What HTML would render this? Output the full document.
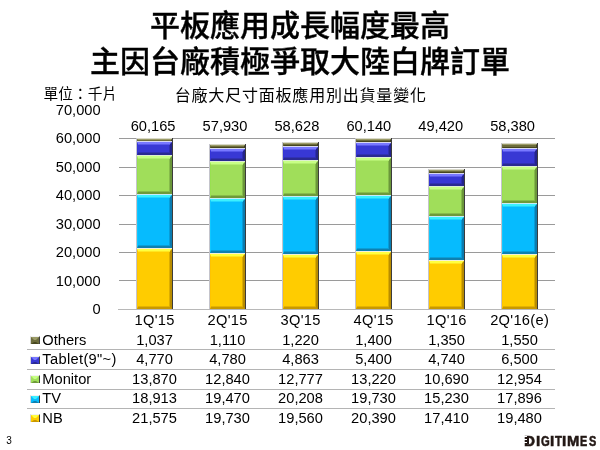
<!DOCTYPE html>
<html><head><meta charset="utf-8"><style>
*{margin:0;padding:0;box-sizing:border-box}
html,body{width:600px;height:450px;background:#fff;overflow:hidden}
body{position:relative;font-family:"Liberation Sans","Noto Sans CJK TC",sans-serif;color:#000}
.a{position:absolute;white-space:nowrap}
.t{font-weight:500;font-size:30px;line-height:36px;-webkit-text-stroke:0.35px #000;width:600px;text-align:center;left:0}
.n{font-size:14.67px;line-height:17px}
.yl{width:80px;text-align:right;left:20.6px}
.c{width:80px;text-align:center}
.g{position:absolute;height:1px;background:#9a9a9a}
.seg{position:absolute;overflow:hidden}
.seg i{position:absolute;left:1px;right:1px;top:1px;bottom:0;border-style:solid;border-width:2px 2px 2px 1px}
.logo span{position:absolute;top:433px;font-family:'Liberation Sans',sans-serif;font-weight:bold;font-size:14.3px;line-height:17px;color:#231815;-webkit-text-stroke:0.55px #231815;transform-origin:0 0}
.sq{position:absolute;width:10px;height:8px;border-style:solid;border-width:1px 1px 0 1px;border-color:#f2f2f2 #404040 #000 #d4d4d4}.sq i{display:block;width:8px;height:7px;border-style:solid;border-width:3px 3px 2px 3px}
</style></head><body>

<div class="a t" style="top:7.5px">平板應用成長幅度最高</div>
<div class="a t" style="top:44px">主因台廠積極爭取大陸白牌訂單</div>
<div class="a" style="left:43.6px;top:83.6px;font-size:14.67px;line-height:20px;letter-spacing:0.1px">單位：千片</div>
<div class="a" style="left:1px;width:600px;text-align:center;top:85.4px;font-size:16px;line-height:22px;letter-spacing:0.8px;text-indent:-0.5px">台廠大尺寸面板應用別出貨量變化</div>
<div class="g" style="left:119px;width:436px;top:280px"></div>
<div class="g" style="left:119px;width:436px;top:252px"></div>
<div class="g" style="left:119px;width:436px;top:224px"></div>
<div class="g" style="left:119px;width:436px;top:195px"></div>
<div class="g" style="left:119px;width:436px;top:167px"></div>
<div class="g" style="left:119px;width:436px;top:138px"></div>
<div class="g" style="left:118px;width:437px;top:309px;background:#b8b8b8"></div>
<div class="a n yl" style="top:301px">0</div>
<div class="a n yl" style="top:273px">10,000</div>
<div class="a n yl" style="top:244px">20,000</div>
<div class="a n yl" style="top:216px">30,000</div>
<div class="a n yl" style="top:187px">40,000</div>
<div class="a n yl" style="top:159px">50,000</div>
<div class="a n yl" style="top:130px">60,000</div>
<div class="a n yl" style="top:102px">70,000</div>
<div class="seg" style="left:136px;top:248px;width:37px;height:61px;background:linear-gradient(90deg,#c4c4cc 0 1px,transparent 1px calc(100% - 1px),#3c3c3c calc(100% - 1px));"><div style="position:absolute;left:1px;right:1px;top:0;height:1px;background:#F4F0D8"></div><i style="background:#FFCC00;border-color:#FFFF40 #B88C00 #C89800 #FFC400;box-shadow:inset 0 1px 0 #ffe620,inset -1px 0 0 #dcac00,inset 0 -1px 0 #e4b200"></i></div>
<div class="seg" style="left:136px;top:194px;width:37px;height:54px;background:linear-gradient(90deg,#c4c4cc 0 1px,transparent 1px calc(100% - 1px),#3c3c3c calc(100% - 1px));"><div style="position:absolute;left:1px;right:1px;top:0;height:1px;background:#C8ECF8"></div><i style="background:#06BBFE;border-color:#3CF0FF #0A7CB0 #0E80B0 #10C8FF;box-shadow:inset 0 1px 0 #21d6fe,inset -1px 0 0 #089cd7,inset 0 -1px 0 #0a9ed7"></i></div>
<div class="seg" style="left:136px;top:155px;width:37px;height:39px;background:linear-gradient(90deg,#c4c4cc 0 1px,transparent 1px calc(100% - 1px),#3c3c3c calc(100% - 1px));"><div style="position:absolute;left:1px;right:1px;top:0;height:1px;background:#DDEED0"></div><i style="background:#A0DE5A;border-color:#C8FF86 #6A963A #6E9A3A #98E050;box-shadow:inset 0 1px 0 #b4ee70,inset -1px 0 0 #85ba4a,inset 0 -1px 0 #87bc4a"></i></div>
<div class="seg" style="left:136px;top:141px;width:37px;height:14px;background:linear-gradient(90deg,#c4c4cc 0 1px,transparent 1px calc(100% - 1px),#3c3c3c calc(100% - 1px));"><div style="position:absolute;left:1px;right:1px;top:0;height:1px;background:#D8D8F0"></div><i style="background:#3838D4;border-color:#7878FF #24248C #2A2A92 #3434D8;box-shadow:inset 0 1px 0 #5858ea,inset -1px 0 0 #2e2eb0,inset 0 -1px 0 #3131b3"></i></div>
<div class="seg" style="left:136px;top:138px;width:37px;height:3px;background:linear-gradient(90deg,#c4c4cc 0 1px,transparent 1px calc(100% - 1px),#3c3c3c calc(100% - 1px));"><div style="position:absolute;left:1px;right:1px;top:0;height:1px;background:#D8D8C8"></div><i style="background:#6C6C3C;border-width:1px 1px 0px 1px;border-color:#9C9C68 #40401C #46461F #6C6C3C"></i></div>
<div class="seg" style="left:209px;top:253px;width:37px;height:56px;background:linear-gradient(90deg,#c4c4cc 0 1px,transparent 1px calc(100% - 1px),#3c3c3c calc(100% - 1px));"><div style="position:absolute;left:1px;right:1px;top:0;height:1px;background:#F4F0D8"></div><i style="background:#FFCC00;border-color:#FFFF40 #B88C00 #C89800 #FFC400;box-shadow:inset 0 1px 0 #ffe620,inset -1px 0 0 #dcac00,inset 0 -1px 0 #e4b200"></i></div>
<div class="seg" style="left:209px;top:198px;width:37px;height:55px;background:linear-gradient(90deg,#c4c4cc 0 1px,transparent 1px calc(100% - 1px),#3c3c3c calc(100% - 1px));"><div style="position:absolute;left:1px;right:1px;top:0;height:1px;background:#C8ECF8"></div><i style="background:#06BBFE;border-color:#3CF0FF #0A7CB0 #0E80B0 #10C8FF;box-shadow:inset 0 1px 0 #21d6fe,inset -1px 0 0 #089cd7,inset 0 -1px 0 #0a9ed7"></i></div>
<div class="seg" style="left:209px;top:161px;width:37px;height:37px;background:linear-gradient(90deg,#c4c4cc 0 1px,transparent 1px calc(100% - 1px),#3c3c3c calc(100% - 1px));"><div style="position:absolute;left:1px;right:1px;top:0;height:1px;background:#DDEED0"></div><i style="background:#A0DE5A;border-color:#C8FF86 #6A963A #6E9A3A #98E050;box-shadow:inset 0 1px 0 #b4ee70,inset -1px 0 0 #85ba4a,inset 0 -1px 0 #87bc4a"></i></div>
<div class="seg" style="left:209px;top:148px;width:37px;height:13px;background:linear-gradient(90deg,#c4c4cc 0 1px,transparent 1px calc(100% - 1px),#3c3c3c calc(100% - 1px));"><div style="position:absolute;left:1px;right:1px;top:0;height:1px;background:#D8D8F0"></div><i style="background:#3838D4;border-color:#7878FF #24248C #2A2A92 #3434D8;box-shadow:inset 0 1px 0 #5858ea,inset -1px 0 0 #2e2eb0,inset 0 -1px 0 #3131b3"></i></div>
<div class="seg" style="left:209px;top:144px;width:37px;height:4px;background:linear-gradient(90deg,#c4c4cc 0 1px,transparent 1px calc(100% - 1px),#3c3c3c calc(100% - 1px));"><div style="position:absolute;left:1px;right:1px;top:0;height:1px;background:#D8D8C8"></div><i style="background:#6C6C3C;border-width:1px 1px 1px 1px;border-color:#9C9C68 #40401C #46461F #6C6C3C"></i></div>
<div class="seg" style="left:282px;top:254px;width:37px;height:55px;background:linear-gradient(90deg,#c4c4cc 0 1px,transparent 1px calc(100% - 1px),#3c3c3c calc(100% - 1px));"><div style="position:absolute;left:1px;right:1px;top:0;height:1px;background:#F4F0D8"></div><i style="background:#FFCC00;border-color:#FFFF40 #B88C00 #C89800 #FFC400;box-shadow:inset 0 1px 0 #ffe620,inset -1px 0 0 #dcac00,inset 0 -1px 0 #e4b200"></i></div>
<div class="seg" style="left:282px;top:196px;width:37px;height:58px;background:linear-gradient(90deg,#c4c4cc 0 1px,transparent 1px calc(100% - 1px),#3c3c3c calc(100% - 1px));"><div style="position:absolute;left:1px;right:1px;top:0;height:1px;background:#C8ECF8"></div><i style="background:#06BBFE;border-color:#3CF0FF #0A7CB0 #0E80B0 #10C8FF;box-shadow:inset 0 1px 0 #21d6fe,inset -1px 0 0 #089cd7,inset 0 -1px 0 #0a9ed7"></i></div>
<div class="seg" style="left:282px;top:160px;width:37px;height:36px;background:linear-gradient(90deg,#c4c4cc 0 1px,transparent 1px calc(100% - 1px),#3c3c3c calc(100% - 1px));"><div style="position:absolute;left:1px;right:1px;top:0;height:1px;background:#DDEED0"></div><i style="background:#A0DE5A;border-color:#C8FF86 #6A963A #6E9A3A #98E050;box-shadow:inset 0 1px 0 #b4ee70,inset -1px 0 0 #85ba4a,inset 0 -1px 0 #87bc4a"></i></div>
<div class="seg" style="left:282px;top:146px;width:37px;height:14px;background:linear-gradient(90deg,#c4c4cc 0 1px,transparent 1px calc(100% - 1px),#3c3c3c calc(100% - 1px));"><div style="position:absolute;left:1px;right:1px;top:0;height:1px;background:#D8D8F0"></div><i style="background:#3838D4;border-color:#7878FF #24248C #2A2A92 #3434D8;box-shadow:inset 0 1px 0 #5858ea,inset -1px 0 0 #2e2eb0,inset 0 -1px 0 #3131b3"></i></div>
<div class="seg" style="left:282px;top:142px;width:37px;height:4px;background:linear-gradient(90deg,#c4c4cc 0 1px,transparent 1px calc(100% - 1px),#3c3c3c calc(100% - 1px));"><div style="position:absolute;left:1px;right:1px;top:0;height:1px;background:#D8D8C8"></div><i style="background:#6C6C3C;border-width:1px 1px 1px 1px;border-color:#9C9C68 #40401C #46461F #6C6C3C"></i></div>
<div class="seg" style="left:355px;top:251px;width:37px;height:58px;background:linear-gradient(90deg,#c4c4cc 0 1px,transparent 1px calc(100% - 1px),#3c3c3c calc(100% - 1px));"><div style="position:absolute;left:1px;right:1px;top:0;height:1px;background:#F4F0D8"></div><i style="background:#FFCC00;border-color:#FFFF40 #B88C00 #C89800 #FFC400;box-shadow:inset 0 1px 0 #ffe620,inset -1px 0 0 #dcac00,inset 0 -1px 0 #e4b200"></i></div>
<div class="seg" style="left:355px;top:195px;width:37px;height:56px;background:linear-gradient(90deg,#c4c4cc 0 1px,transparent 1px calc(100% - 1px),#3c3c3c calc(100% - 1px));"><div style="position:absolute;left:1px;right:1px;top:0;height:1px;background:#C8ECF8"></div><i style="background:#06BBFE;border-color:#3CF0FF #0A7CB0 #0E80B0 #10C8FF;box-shadow:inset 0 1px 0 #21d6fe,inset -1px 0 0 #089cd7,inset 0 -1px 0 #0a9ed7"></i></div>
<div class="seg" style="left:355px;top:157px;width:37px;height:38px;background:linear-gradient(90deg,#c4c4cc 0 1px,transparent 1px calc(100% - 1px),#3c3c3c calc(100% - 1px));"><div style="position:absolute;left:1px;right:1px;top:0;height:1px;background:#DDEED0"></div><i style="background:#A0DE5A;border-color:#C8FF86 #6A963A #6E9A3A #98E050;box-shadow:inset 0 1px 0 #b4ee70,inset -1px 0 0 #85ba4a,inset 0 -1px 0 #87bc4a"></i></div>
<div class="seg" style="left:355px;top:142px;width:37px;height:15px;background:linear-gradient(90deg,#c4c4cc 0 1px,transparent 1px calc(100% - 1px),#3c3c3c calc(100% - 1px));"><div style="position:absolute;left:1px;right:1px;top:0;height:1px;background:#D8D8F0"></div><i style="background:#3838D4;border-color:#7878FF #24248C #2A2A92 #3434D8;box-shadow:inset 0 1px 0 #5858ea,inset -1px 0 0 #2e2eb0,inset 0 -1px 0 #3131b3"></i></div>
<div class="seg" style="left:355px;top:138px;width:37px;height:4px;background:linear-gradient(90deg,#c4c4cc 0 1px,transparent 1px calc(100% - 1px),#3c3c3c calc(100% - 1px));"><div style="position:absolute;left:1px;right:1px;top:0;height:1px;background:#D8D8C8"></div><i style="background:#6C6C3C;border-width:1px 1px 1px 1px;border-color:#9C9C68 #40401C #46461F #6C6C3C"></i></div>
<div class="seg" style="left:428px;top:260px;width:37px;height:49px;background:linear-gradient(90deg,#c4c4cc 0 1px,transparent 1px calc(100% - 1px),#3c3c3c calc(100% - 1px));"><div style="position:absolute;left:1px;right:1px;top:0;height:1px;background:#F4F0D8"></div><i style="background:#FFCC00;border-color:#FFFF40 #B88C00 #C89800 #FFC400;box-shadow:inset 0 1px 0 #ffe620,inset -1px 0 0 #dcac00,inset 0 -1px 0 #e4b200"></i></div>
<div class="seg" style="left:428px;top:216px;width:37px;height:44px;background:linear-gradient(90deg,#c4c4cc 0 1px,transparent 1px calc(100% - 1px),#3c3c3c calc(100% - 1px));"><div style="position:absolute;left:1px;right:1px;top:0;height:1px;background:#C8ECF8"></div><i style="background:#06BBFE;border-color:#3CF0FF #0A7CB0 #0E80B0 #10C8FF;box-shadow:inset 0 1px 0 #21d6fe,inset -1px 0 0 #089cd7,inset 0 -1px 0 #0a9ed7"></i></div>
<div class="seg" style="left:428px;top:186px;width:37px;height:30px;background:linear-gradient(90deg,#c4c4cc 0 1px,transparent 1px calc(100% - 1px),#3c3c3c calc(100% - 1px));"><div style="position:absolute;left:1px;right:1px;top:0;height:1px;background:#DDEED0"></div><i style="background:#A0DE5A;border-color:#C8FF86 #6A963A #6E9A3A #98E050;box-shadow:inset 0 1px 0 #b4ee70,inset -1px 0 0 #85ba4a,inset 0 -1px 0 #87bc4a"></i></div>
<div class="seg" style="left:428px;top:173px;width:37px;height:13px;background:linear-gradient(90deg,#c4c4cc 0 1px,transparent 1px calc(100% - 1px),#3c3c3c calc(100% - 1px));"><div style="position:absolute;left:1px;right:1px;top:0;height:1px;background:#D8D8F0"></div><i style="background:#3838D4;border-color:#7878FF #24248C #2A2A92 #3434D8;box-shadow:inset 0 1px 0 #5858ea,inset -1px 0 0 #2e2eb0,inset 0 -1px 0 #3131b3"></i></div>
<div class="seg" style="left:428px;top:169px;width:37px;height:4px;background:linear-gradient(90deg,#c4c4cc 0 1px,transparent 1px calc(100% - 1px),#3c3c3c calc(100% - 1px));"><div style="position:absolute;left:1px;right:1px;top:0;height:1px;background:#D8D8C8"></div><i style="background:#6C6C3C;border-width:1px 1px 1px 1px;border-color:#9C9C68 #40401C #46461F #6C6C3C"></i></div>
<div class="seg" style="left:501px;top:254px;width:37px;height:55px;background:linear-gradient(90deg,#c4c4cc 0 1px,transparent 1px calc(100% - 1px),#3c3c3c calc(100% - 1px));"><div style="position:absolute;left:1px;right:1px;top:0;height:1px;background:#F4F0D8"></div><i style="background:#FFCC00;border-color:#FFFF40 #B88C00 #C89800 #FFC400;box-shadow:inset 0 1px 0 #ffe620,inset -1px 0 0 #dcac00,inset 0 -1px 0 #e4b200"></i></div>
<div class="seg" style="left:501px;top:203px;width:37px;height:51px;background:linear-gradient(90deg,#c4c4cc 0 1px,transparent 1px calc(100% - 1px),#3c3c3c calc(100% - 1px));"><div style="position:absolute;left:1px;right:1px;top:0;height:1px;background:#C8ECF8"></div><i style="background:#06BBFE;border-color:#3CF0FF #0A7CB0 #0E80B0 #10C8FF;box-shadow:inset 0 1px 0 #21d6fe,inset -1px 0 0 #089cd7,inset 0 -1px 0 #0a9ed7"></i></div>
<div class="seg" style="left:501px;top:166px;width:37px;height:37px;background:linear-gradient(90deg,#c4c4cc 0 1px,transparent 1px calc(100% - 1px),#3c3c3c calc(100% - 1px));"><div style="position:absolute;left:1px;right:1px;top:0;height:1px;background:#DDEED0"></div><i style="background:#A0DE5A;border-color:#C8FF86 #6A963A #6E9A3A #98E050;box-shadow:inset 0 1px 0 #b4ee70,inset -1px 0 0 #85ba4a,inset 0 -1px 0 #87bc4a"></i></div>
<div class="seg" style="left:501px;top:148px;width:37px;height:18px;background:linear-gradient(90deg,#c4c4cc 0 1px,transparent 1px calc(100% - 1px),#3c3c3c calc(100% - 1px));"><div style="position:absolute;left:1px;right:1px;top:0;height:1px;background:#D8D8F0"></div><i style="background:#3838D4;border-color:#7878FF #24248C #2A2A92 #3434D8;box-shadow:inset 0 1px 0 #5858ea,inset -1px 0 0 #2e2eb0,inset 0 -1px 0 #3131b3"></i></div>
<div class="seg" style="left:501px;top:143px;width:37px;height:5px;background:linear-gradient(90deg,#c4c4cc 0 1px,transparent 1px calc(100% - 1px),#3c3c3c calc(100% - 1px));"><div style="position:absolute;left:1px;right:1px;top:0;height:1px;background:#D8D8C8"></div><i style="background:#6C6C3C;border-width:1px 1px 1px 1px;border-color:#9C9C68 #40401C #46461F #6C6C3C"></i></div>
<div class="a n c" style="left:113.10px;top:118px">60,165</div>
<div class="a n c" style="left:114.50px;top:312px;letter-spacing:0.3px;text-indent:0.3px">1Q'15</div>
<div class="a n c" style="left:185.00px;top:118px">57,930</div>
<div class="a n c" style="left:187.50px;top:312px;letter-spacing:0.3px;text-indent:0.3px">2Q'15</div>
<div class="a n c" style="left:256.90px;top:118px">58,628</div>
<div class="a n c" style="left:260.50px;top:312px;letter-spacing:0.3px;text-indent:0.3px">3Q'15</div>
<div class="a n c" style="left:328.80px;top:118px">60,140</div>
<div class="a n c" style="left:333.50px;top:312px;letter-spacing:0.3px;text-indent:0.3px">4Q'15</div>
<div class="a n c" style="left:400.70px;top:118px">49,420</div>
<div class="a n c" style="left:406.50px;top:312px;letter-spacing:0.3px;text-indent:0.3px">1Q'16</div>
<div class="a n c" style="left:472.60px;top:118px">58,380</div>
<div class="a n c" style="left:479.50px;top:312px;letter-spacing:0.3px;text-indent:0.3px">2Q'16(e)</div>
<div class="sq" style="left:30px;top:336px"><i style="background:#6C6C3C;border-color:#9C9C68 #6C6C3C #46461F #6C6C3C"></i></div>
<div class="a n" style="left:42.3px;top:332px">Others</div>
<div class="a n c" style="left:114.50px;top:332px">1,037</div>
<div class="a n c" style="left:187.50px;top:332px">1,110</div>
<div class="a n c" style="left:260.50px;top:332px">1,220</div>
<div class="a n c" style="left:333.50px;top:332px">1,400</div>
<div class="a n c" style="left:406.50px;top:332px">1,350</div>
<div class="a n c" style="left:479.50px;top:332px">1,550</div>
<div class="sq" style="left:30px;top:356px"><i style="background:#3838D4;border-color:#7878FF #3838D4 #2A2A92 #3838D4"></i></div>
<div class="a n" style="left:42.3px;top:351px;letter-spacing:0.33px">Tablet(9"~)</div>
<div class="a n c" style="left:114.50px;top:351px">4,770</div>
<div class="a n c" style="left:187.50px;top:351px">4,780</div>
<div class="a n c" style="left:260.50px;top:351px">4,863</div>
<div class="a n c" style="left:333.50px;top:351px">5,400</div>
<div class="a n c" style="left:406.50px;top:351px">4,740</div>
<div class="a n c" style="left:479.50px;top:351px">6,500</div>
<div class="sq" style="left:30px;top:375px"><i style="background:#A0DE5A;border-color:#C8FF86 #A0DE5A #6E9A3A #A0DE5A"></i></div>
<div class="a n" style="left:42.3px;top:371px">Monitor</div>
<div class="a n c" style="left:114.50px;top:371px">13,870</div>
<div class="a n c" style="left:187.50px;top:371px">12,840</div>
<div class="a n c" style="left:260.50px;top:371px">12,777</div>
<div class="a n c" style="left:333.50px;top:371px">13,220</div>
<div class="a n c" style="left:406.50px;top:371px">10,690</div>
<div class="a n c" style="left:479.50px;top:371px">12,954</div>
<div class="sq" style="left:30px;top:395px"><i style="background:#06BBFE;border-color:#3CF0FF #06BBFE #0E80B0 #06BBFE"></i></div>
<div class="a n" style="left:42.3px;top:390px">TV</div>
<div class="a n c" style="left:114.50px;top:390px">18,913</div>
<div class="a n c" style="left:187.50px;top:390px">19,470</div>
<div class="a n c" style="left:260.50px;top:390px">20,208</div>
<div class="a n c" style="left:333.50px;top:390px">19,730</div>
<div class="a n c" style="left:406.50px;top:390px">15,230</div>
<div class="a n c" style="left:479.50px;top:390px">17,896</div>
<div class="sq" style="left:30px;top:414px"><i style="background:#FFCC00;border-color:#FFFF40 #FFCC00 #C89800 #FFCC00"></i></div>
<div class="a n" style="left:42.3px;top:410px">NB</div>
<div class="a n c" style="left:114.50px;top:410px">21,575</div>
<div class="a n c" style="left:187.50px;top:410px">19,730</div>
<div class="a n c" style="left:260.50px;top:410px">19,560</div>
<div class="a n c" style="left:333.50px;top:410px">20,390</div>
<div class="a n c" style="left:406.50px;top:410px">17,410</div>
<div class="a n c" style="left:479.50px;top:410px">19,480</div>
<div class="g" style="left:27px;width:528px;top:349px;background:#b4b4b4"></div>
<div class="g" style="left:27px;width:528px;top:369px;background:#b4b4b4"></div>
<div class="g" style="left:27px;width:528px;top:389px;background:#b4b4b4"></div>
<div class="g" style="left:27px;width:528px;top:408px;background:#b4b4b4"></div>
<div class="a" style="left:6.3px;top:434.6px;font-size:10px;line-height:12px">3</div>
<div class="logo"><span style="left:524.16px;transform:scaleX(1.064)">D</span><span style="left:536.06px;transform:scaleX(1.064)">I</span><span style="left:541.00px;transform:scaleX(0.786)">G</span><span style="left:550.26px;transform:scaleX(1.064)">I</span><span style="left:555.00px;transform:scaleX(0.789)">T</span><span style="left:562.46px;transform:scaleX(1.064)">I</span><span style="left:567.19px;transform:scaleX(1.030)">M</span><span style="left:580.20px;transform:scaleX(0.757)">E</span><span style="left:588.90px;transform:scaleX(0.763)">S</span></div>
<div class="a" style="left:524px;top:436.3px;width:4.6px;height:1.1px;background:#fff"></div>
<div class="a" style="left:524px;top:439.1px;width:4.6px;height:1px;background:#fff"></div>
<div class="a" style="left:524px;top:441.8px;width:4.6px;height:1.3px;background:#fff"></div>
<div class="a" style="left:526.8px;top:436px;width:2.2px;height:7.6px;background:#231815"></div>
</body></html>
